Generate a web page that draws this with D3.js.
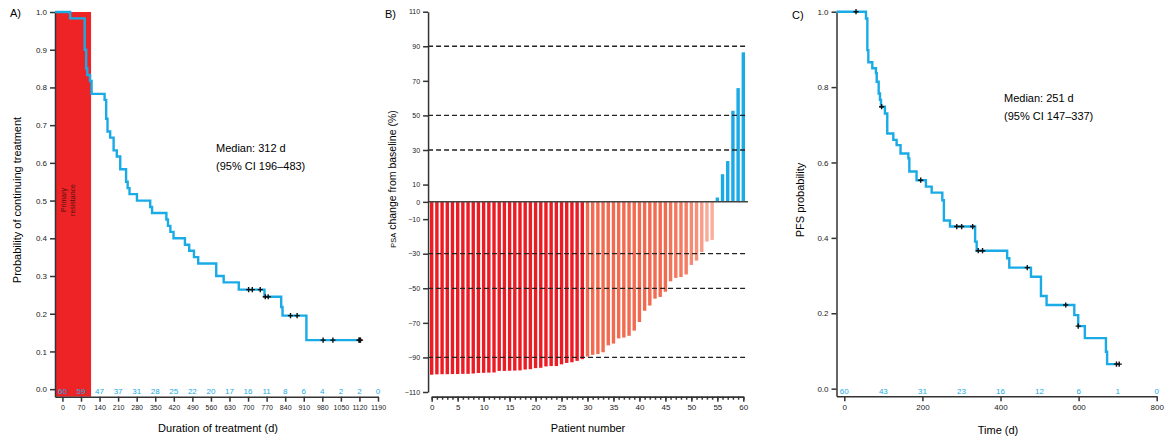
<!DOCTYPE html>
<html>
<head>
<meta charset="utf-8">
<script src="https://cdn.jsdelivr.net/npm/d3@7"></script>
<style>
  body { margin: 0; background: #fff; }
  svg { display: block; font-family: Arial, "Liberation Sans", sans-serif; }
  .axis path, .axis line { stroke: #333; stroke-width: 1.5; }
  .axis text { fill: #222; }
</style>
</head>
<body>
<svg width="1170" height="441"></svg>
<script>
// ---- panel A: duration of treatment (KM steps) ----
const durTimes = [0, 29, 84, 89.5, 94, 104, 110, 159, 165, 170, 180, 193, 205, 218, 240, 246, 253, 281, 331, 338, 392, 398, 407, 419, 462, 478, 496, 512, 580, 608, 665, 762, 825, 830, 920];
const durSurv  = [1.0, 0.983, 0.9, 0.85, 0.833, 0.817, 0.783, 0.767, 0.717, 0.683, 0.667, 0.633, 0.617, 0.583, 0.55, 0.533, 0.517, 0.5, 0.483, 0.467, 0.45, 0.433, 0.417, 0.4, 0.383, 0.367, 0.35, 0.333, 0.3, 0.283, 0.264, 0.245, 0.218, 0.195, 0.13];
const durEnd = 1124;
const durCensor = [702, 716, 746, 765, 776, 860, 885, 983, 1020, 1118, 1121, 1124];
const durTicks = d3.range(0, 1191, 70);
const durAtRisk = [60, 59, 47, 37, 31, 28, 25, 22, 20, 17, 16, 11, 8, 6, 4, 2, 2, 0];
const durYTicks = [0, 0.1, 0.2, 0.3, 0.4, 0.5, 0.6, 0.7, 0.8, 0.9, 1.0];
const primaryResistanceEnd = 108;

// ---- panel B: PSA waterfall ----
const psaRed = [-100, -99.8, -99.7, -99.7, -99.6, -99.6, -99.5, -99.5, -99.3, -99, -98.9, -98.8, -98.7, -97.8, -97.8, -97.7, -97.6, -97.5, -97, -96.8, -96.2, -96, -95.2, -95, -95, -94, -93.2, -92.8, -92, -91, -89.5, -88.5, -88, -87, -83, -82, -79, -78.5, -77.5, -74.5, -69.5, -63, -60, -56, -55, -52, -46, -44, -43.5, -42, -36.5, -34, -29, -23, -22];
const psaBlue = [2.5, 16, 23.6, 52.7, 65.8, 86.5];
const psaYTicks = [110, 90, 70, 50, 30, 10, 0, -10, -30, -50, -70, -90, -110];
const psaRefLines = [90, 50, 30, -30, -50, -90];

// ---- panel C: PFS (KM steps) ----
const pfsTimes = [0, 55.5, 59, 61.5, 71.7, 81, 83, 88, 91.4, 94, 104, 110, 125.5, 134, 144, 164, 166.5, 185, 209, 223.7, 251, 255, 270.6, 335, 339, 417, 422.5, 478, 503.6, 518, 589, 599, 616, 670, 673];
const pfsSurv  = [1.0, 0.982, 0.898, 0.866, 0.85, 0.837, 0.814, 0.783, 0.766, 0.748, 0.73, 0.677, 0.66, 0.646, 0.624, 0.611, 0.576, 0.553, 0.536, 0.52, 0.5, 0.446, 0.43, 0.39, 0.366, 0.346, 0.321, 0.297, 0.246, 0.222, 0.195, 0.166, 0.134, 0.098, 0.065];
const pfsEnd = 706;
const pfsCensor = [30, 95.6, 195.6, 288, 300.5, 328.7, 343, 354, 468.6, 567, 599, 697, 704];
const pfsTicks = [0, 200, 400, 600, 800];
const pfsRiskTimes = [0, 100, 200, 300, 400, 500, 600, 700, 800];
const pfsAtRisk = [60, 43, 31, 23, 16, 12, 6, 1, 0];
const pfsYTicks = [0, 0.2, 0.4, 0.6, 0.8, 1.0];

const blue = "#1aabe6";
const svg = d3.select("svg");

function stepAt(times, surv, t) {
    let s = surv[0];
    for (let i = 0; i < times.length; i++) if (times[i] <= t) s = surv[i];
    return s;
}

function kmPanel(o) {
    const g = svg.append("g");
    const x = d3.scaleLinear().domain(o.xDomain).range(o.xRange);
    const y = d3.scaleLinear().domain([-0.02, 1]).range(o.yRange);

    if (o.before) o.before(g, x, y);

    g.append("g").attr("class", "axis")
        .attr("transform", `translate(0,${o.yRange[0]})`)
        .call(d3.axisBottom(x).tickValues(o.xTicks).tickFormat(d3.format("d")).tickSize(5).tickSizeOuter(0).tickPadding(3))
        .selectAll("text").style("font-size", o.xTickFont + "px");
    g.append("g").attr("class", "axis")
        .attr("transform", `translate(${o.xRange[0]},0)`)
        .call(d3.axisLeft(y).tickValues(o.yTicks).tickFormat(d3.format(".1f")).tickSize(5).tickSizeOuter(0).tickPadding(3))
        .selectAll("text").style("font-size", "8px");

    // numbers at risk
    g.selectAll(".risk").data(o.riskTimes).join("text")
        .attr("x", d => x(d)).attr("y", y(0) + 5)
        .attr("text-anchor", "middle").attr("fill", blue)
        .style("font-size", "8px")
        .text((d, i) => o.atRisk[i]);

    const pts = o.times.map((t, i) => [o.times[i], o.surv[i]]);
    pts[0][0] = o.xDomain[0];
    pts.push([o.end, o.surv[o.surv.length - 1]]);
    const line = d3.line().x(d => x(d[0])).y(d => y(d[1])).curve(d3.curveStepAfter);
    g.append("path").attr("d", line(pts)).attr("fill", "none")
        .attr("stroke", blue).attr("stroke-width", 2.4);

    g.selectAll(".cens").data(o.censor).join("path")
        .attr("transform", d => `translate(${x(d)},${y(stepAt(o.times, o.surv, d))})`)
        .attr("d", "M-2.6,0H2.6M0,-2.6V2.6")
        .attr("stroke", "#111").attr("stroke-width", 1.4);

    g.append("text").attr("x", o.xTitle[0]).attr("y", o.xTitle[1])
        .attr("text-anchor", "middle").style("font-size", "11px").text(o.xLabel);
    g.append("text").attr("transform", `translate(${o.yTitle[0]},${o.yTitle[1]}) rotate(-90)`)
        .attr("text-anchor", "middle").style("font-size", "11px").text(o.yLabel);
    g.append("text").attr("x", o.tag[0]).attr("y", o.tag[1]).style("font-size", "11px").text(o.tagText);
    o.median.forEach((m, i) => g.append("text")
        .attr("x", o.medPos[0]).attr("y", o.medPos[1] + i * 18)
        .style("font-size", "11px").text(m));
}

kmPanel({
    xDomain: [-28, 1190], xRange: [55, 378], yRange: [396.7, 12],
    xTicks: durTicks, yTicks: durYTicks, xTickFont: 7,
    riskTimes: durTicks, atRisk: durAtRisk,
    times: durTimes, surv: durSurv, end: durEnd, censor: durCensor,
    xLabel: "Duration of treatment (d)", xTitle: [218, 432],
    yLabel: "Probability of continuing treatment", yTitle: [21, 200],
    tag: [10, 17], tagText: "A)",
    median: ["Median: 312 d", "(95% CI 196\u2013483)"], medPos: [216, 152],
    before: (g, x, y) => {
        g.append("rect").attr("x", x(-28)).attr("y", y(1))
            .attr("width", x(primaryResistanceEnd) - x(-28)).attr("height", y(-0.02) - y(1))
            .attr("fill", "#ee2326");
        const t = g.append("text").attr("transform", `translate(${x(12)},200) rotate(-90)`)
            .attr("text-anchor", "middle").style("font-size", "7px").attr("fill", "#4a1010");
        t.append("tspan").attr("x", 0).attr("dy", 0).text("Primary");
        t.append("tspan").attr("x", 0).attr("dy", 9).text("resistance");
    }
});

kmPanel({
    xDomain: [-20, 800], xRange: [836.5, 1156.7], yRange: [396.2, 11.7],
    xTicks: pfsTicks, yTicks: pfsYTicks, xTickFont: 8,
    riskTimes: pfsRiskTimes, atRisk: pfsAtRisk,
    times: pfsTimes, surv: pfsSurv, end: pfsEnd, censor: pfsCensor,
    xLabel: "Time (d)", xTitle: [998, 434],
    yLabel: "PFS probability", yTitle: [804, 200],
    tag: [792, 19], tagText: "C)",
    median: ["Median: 251 d", "(95% CI 147\u2013337)"], medPos: [1004, 102]
});

// ---- panel B drawing ----
const gB = svg.append("g");
const xB = d3.scaleLinear().domain([0, 60]).range([431.7, 743.3]);
const yB = d3.scaleLinear().domain([-110, 110]).range([392, 11.7]);
const psaAll = psaRed.concat(psaBlue);
const redColor = v => v <= -90 ? "#ec1c24"
    : v <= -50 ? "#f26a4f"
    : d3.interpolateRgb("#fde3d6", "#f26a4f")((-v) / 50);

gB.selectAll(".bar").data(psaAll).join("rect")
    .attr("x", (d, i) => xB(i) - 1.7).attr("width", 3.4)
    .attr("y", d => d > 0 ? yB(d) : yB(0))
    .attr("height", d => Math.abs(yB(d) - yB(0)))
    .attr("fill", d => d > 0 ? blue : redColor(d));

gB.selectAll(".ref").data(psaRefLines).join("line")
    .attr("x1", xB(-0.7)).attr("x2", xB(60.9))
    .attr("y1", d => yB(d)).attr("y2", d => yB(d))
    .attr("stroke", "#222").attr("stroke-width", 1.3).attr("stroke-dasharray", "5,3");
gB.append("line").attr("x1", xB(-0.7)).attr("x2", xB(60.9))
    .attr("y1", yB(0)).attr("y2", yB(0)).attr("stroke", "#444").attr("stroke-width", 1.5);

gB.append("g").attr("class", "axis").attr("transform", `translate(${xB(-0.7)},0)`)
    .call(d3.axisLeft(yB).tickValues(psaYTicks).tickSize(5).tickSizeOuter(0).tickPadding(3))
    .selectAll("text").style("font-size", "7px");
gB.append("g").attr("class", "axis").attr("transform", "translate(0,396.7)")
    .call(d3.axisBottom(xB).tickValues(d3.range(0, 61)).tickFormat("").tickSize(3).tickSizeOuter(0));
gB.append("g").attr("class", "axis").attr("transform", "translate(0,396.7)")
    .call(d3.axisBottom(xB).tickValues(d3.range(0, 61, 5)).tickSize(5).tickSizeOuter(0).tickPadding(3))
    .selectAll("text").style("font-size", "8px");

gB.append("text").attr("x", 588).attr("y", 432).attr("text-anchor", "middle")
    .style("font-size", "11px").text("Patient number");
const yt = gB.append("text").attr("transform", "translate(396,179) rotate(-90)")
    .attr("text-anchor", "middle").style("font-size", "10.5px");
yt.append("tspan").style("font-size", "7.5px").text("PSA");
yt.append("tspan").text(" change from baseline (%)");
gB.append("text").attr("x", 385).attr("y", 18).style("font-size", "11px").text("B)");
</script>
</body>
</html>
